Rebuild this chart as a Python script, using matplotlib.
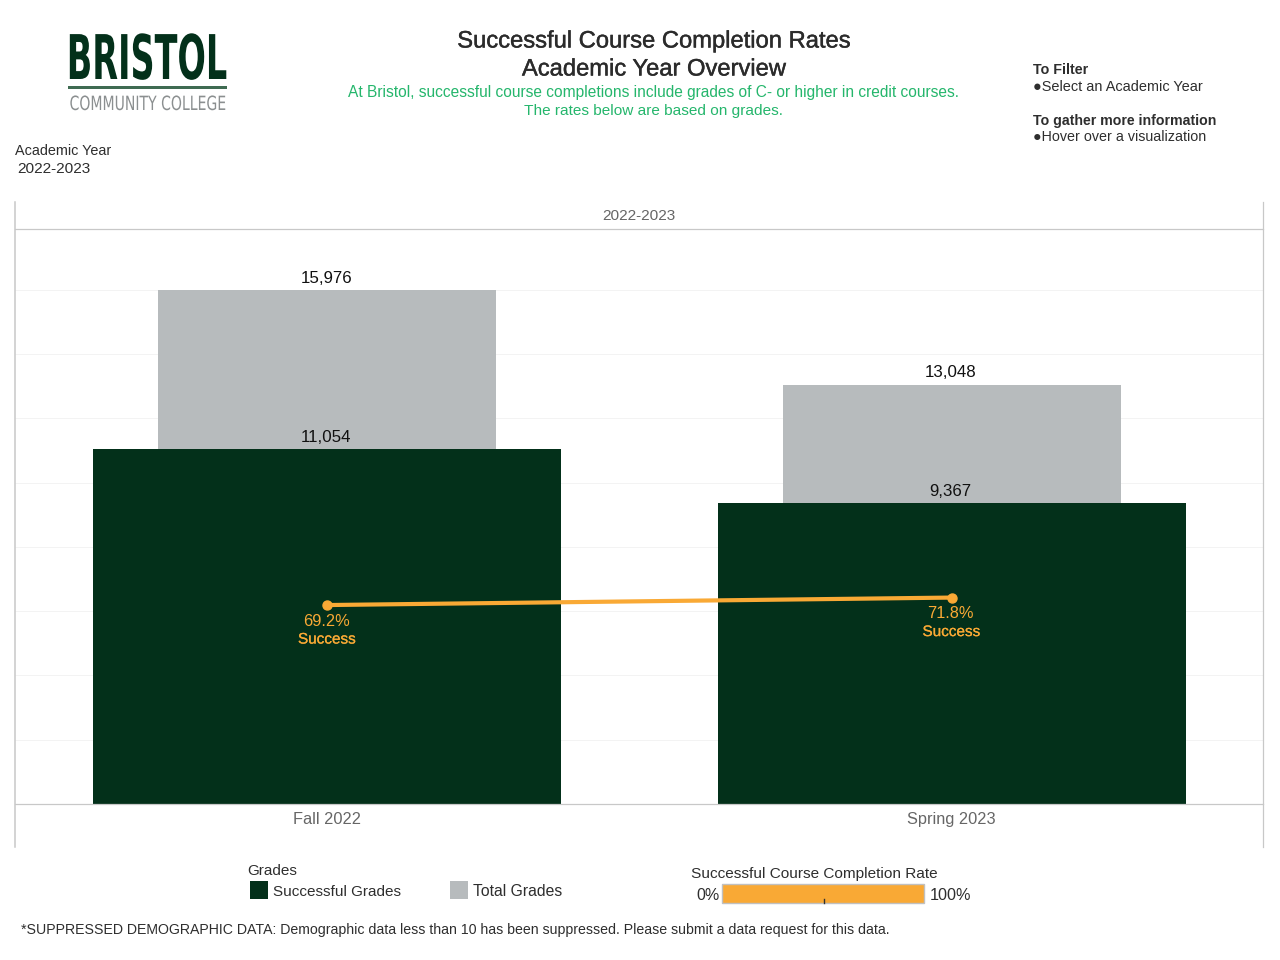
#!/usr/bin/env python3
"""Successful course completion rates, academic year overview."""
import matplotlib
matplotlib.use("Agg")
import matplotlib.pyplot as plt
from matplotlib.lines import Line2D
from matplotlib.patches import Rectangle
from matplotlib.patheffects import AbstractPathEffect, withStroke
from matplotlib.transforms import Affine2D

terms = ["Fall 2022", "Spring 2023"]
total_grades = [15976, 13048]
successful_grades = [11054, 9367]
success_rate = [69.2, 71.8]

DARK = "#03301a"
GRAY = "#b7bbbd"
ORANGE = "#f9a935"
GREEN = "#25b66c"
TEXT = "#2e2e2e"
W, H = 1280, 960

plt.rcParams["font.family"] = ["Liberation Sans", "DejaVu Sans"]


class StretchY(AbstractPathEffect):
    """Stretch drawn text vertically, the logo lettering is very condensed."""

    def __init__(self, factor, base):
        super().__init__()
        self.factor = factor
        self.base = base

    def draw_path(self, renderer, gc, tpath, affine, rgbFace=None):
        stretch = Affine2D().translate(0, -self.base).scale(1, self.factor).translate(0, self.base)
        renderer.draw_path(gc, tpath, affine + stretch, rgbFace)


def label(fig, x, y, text, size=11, color=TEXT, ha="left", **kwargs):
    return fig.text(x / W, 1 - y / H, text, fontsize=size, color=color, ha=ha, va="center", **kwargs)


def heavy(artist, width=0.4):
    artist.set_path_effects([withStroke(linewidth=width, foreground=artist.get_color())])
    return artist


def rule(fig, x0, y0, x1, y1, color="#c8c8c8", lw=0.9):
    fig.add_artist(Line2D([x0 / W, x1 / W], [1 - y0 / H, 1 - y1 / H], color=color, lw=lw))


def box(fig, x0, y0, x1, y1, color, edge="none", lw=0):
    fig.add_artist(Rectangle((x0 / W, 1 - y1 / H), (x1 - x0) / W, (y1 - y0) / H,
                             transform=fig.transFigure, facecolor=color, edgecolor=edge, linewidth=lw))


def logo_text(fig, x, base, text, size, color, factor, **kwargs):
    art = fig.text(x / W, 1 - base / H, text, fontsize=size, color=color, ha="center", va="baseline",
                   family="Liberation Sans Narrow", **kwargs)
    art.set_path_effects([StretchY(factor, H - base)])
    return art


def main():
    fig = plt.figure(figsize=(12.8, 9.6), dpi=100)

    # chart pane: 229px to 804px, two columns
    ax = fig.add_axes([15 / W, 1 - 804 / H, 1249 / W, 575 / H])
    ax.set_xlim(-0.5, 1.5)
    ax.set_ylim(0, 17885)
    ax.set_yticks(range(2000, 17000, 2000))
    ax.grid(True, axis="y", color="#f3f3f3", lw=0.7)
    ax.set_axisbelow(True)
    for side in ax.spines.values():
        side.set_visible(False)

    positions = range(len(terms))
    ax.bar(positions, total_grades, width=0.5417, color=GRAY)
    ax.bar(positions, successful_grades, width=0.75, color=DARK)
    for i in positions:
        ax.annotate(f"{total_grades[i]:,}", (i, total_grades[i]), xytext=(-1, 12), textcoords="offset pixels",
                    ha="center", va="center", fontsize=12.2, color="#111111")
        ax.annotate(f"{successful_grades[i]:,}", (i, successful_grades[i]), xytext=(-1, 11.5), textcoords="offset pixels",
                    ha="center", va="center", fontsize=12.2, color="#111111")

    rate_ax = ax.twinx()
    rate_ax.set_ylim(0, 200)
    rate_ax.axis("off")
    ax.tick_params(left=False, right=False, bottom=False, labelleft=False, labelbottom=False)
    rate_ax.plot(positions, success_rate, color=ORANGE, lw=3, marker="o", ms=6.5)
    for i in positions:
        rate_ax.annotate(f"{success_rate[i]}%", (i, success_rate[i]), xytext=(-1, -16), textcoords="offset pixels",
                         ha="center", va="center", fontsize=11.8, color=ORANGE)
        heavy(rate_ax.annotate("Success", (i, success_rate[i]), xytext=(-0.5, -34.5), textcoords="offset pixels",
                               ha="center", va="center", fontsize=11, color=ORANGE), 0.15)

    for i, term in enumerate(terms):
        ax.annotate(term, (i, 0), xytext=(0, -15.5), textcoords="offset pixels",
                    ha="center", va="center", fontsize=11.8, color="#666666")

    # pane frame
    rule(fig, 15, 228.5, 1263, 228.5)
    rule(fig, 15, 804, 1263, 804)
    rule(fig, 15, 202, 15, 847, lw=1.1)
    rule(fig, 1263, 202, 1263, 847)
    label(fig, 639, 216, "2022-2023", 11.1, "#666666", ha="center")

    # logo
    logo_text(fig, 147, 79, "BRISTOL", 24.1, DARK, 1.84, weight="bold")
    box(fig, 68, 86, 227, 89, "#3f6b52")
    logo_text(fig, 147.5, 110, "COMMUNITY COLLEGE", 10.1, "#8b8f90", 1.4)

    # header
    heavy(label(fig, 654, 41.5, "Successful Course Completion Rates", 17.1, "#2b2b2b", ha="center"), 0.3)
    heavy(label(fig, 654, 69.5, "Academic Year Overview", 17.1, "#2b2b2b", ha="center"), 0.3)
    label(fig, 654, 92, "At Bristol, successful course completions include grades of C- or higher in credit courses.",
          11.2, GREEN, ha="center")
    label(fig, 654, 110.5, "The rates below are based on grades.", 11.1, GREEN, ha="center")

    # filter box
    label(fig, 15, 151, "Academic Year", 10.4)
    label(fig, 17.5, 169, "2022-2023", 11.1)

    # instructions
    label(fig, 1033, 70, "To Filter", 10.3, weight="bold")
    label(fig, 1033, 87, "\u25cfSelect an Academic Year", 10.45)
    label(fig, 1033, 121, "To gather more information", 10.2, weight="bold")
    label(fig, 1033, 137, "\u25cfHover over a visualization", 10.25)

    # legends
    label(fig, 247, 871, "Grades", 11)
    box(fig, 250, 881, 268, 899, DARK)
    label(fig, 273, 892, "Successful Grades", 11)
    box(fig, 450, 881, 468, 899, GRAY)
    label(fig, 473, 892, "Total Grades", 11.3)

    label(fig, 691, 874, "Successful Course Completion Rate", 11.1)
    label(fig, 696, 895, "0%", 11.5)
    box(fig, 722, 884, 924, 903, ORANGE, edge="#c0c0c0", lw=1)
    rule(fig, 823.5, 899, 823.5, 903, color="#333333", lw=1)
    label(fig, 930, 895, "100%", 11.7)

    label(fig, 21, 930, "*SUPPRESSED DEMOGRAPHIC DATA: Demographic data less than 10 has been suppressed. "
          "Please submit a data request for this data.", 10.15)

    fig.savefig("out.png", dpi=100)
    plt.close(fig)


if __name__ == "__main__":
    main()
